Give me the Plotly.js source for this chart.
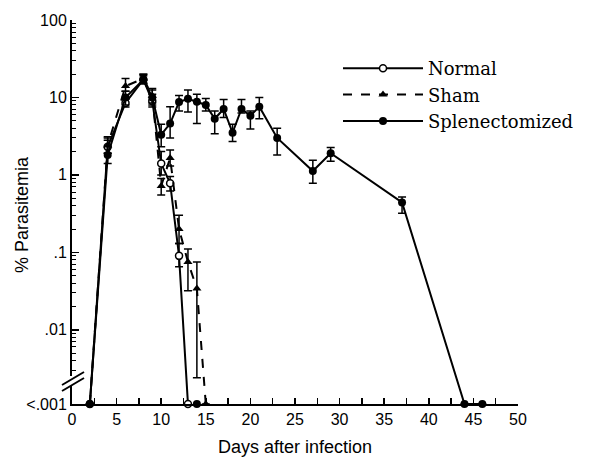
<!DOCTYPE html>
<html>
<head>
<meta charset="utf-8">
<script src="https://cdn.plot.ly/plotly-3.0.1.min.js"></script>
<style>html,body{margin:0;padding:0;background:#fff;}#chart{width:595px;height:460px;}</style>
</head>
<body>
<div id="chart"></div>
<script>
// "<.001" (below detection) is drawn at the floor value
const FLOOR = 0.0011;

// Normal
const normalDays  = [2, 4, 6, 8, 9, 10, 11, 12, 13];
const normalVals  = [FLOOR, 2.3, 8.5, 17, 9, 1.4, 0.78, 0.09, FLOOR];
const normalUpper = [FLOOR, 2.8, 9.5, 19, 11, 2.0, 0.95, 0.13, FLOOR];
const normalLower = [FLOOR, 1.9, 7.5, 15, 7.5, 1.0, 0.62, 0.065, FLOOR];

// Sham
const shamDays  = [2, 4, 6, 8, 9, 10, 11, 12, 13, 14, 15];
const shamVals  = [FLOOR, 2.4, 14, 17.5, 10.5, 0.72, 1.65, 0.2, 0.075, 0.034, FLOOR];
const shamUpper = [FLOOR, 3.0, 17.5, 20, 12.5, 0.9, 2.1, 0.3, 0.11, 0.075, FLOOR];
const shamLower = [FLOOR, 1.9, 12, 15.5, 8.5, 0.55, 1.3, 0.13, 0.032, 0.0024, FLOOR];

// Splenectomized
const splDays  = [2, 4, 6, 8, 9, 10, 11, 12, 13, 14, 15, 16, 17, 18, 19, 20, 21, 23, 27, 29, 37, 44, 46];
const splVals  = [FLOOR, 1.8, 10, 17, 10, 3.3, 4.6, 8.7, 9.6, 8.8, 8, 5.3, 7.1, 3.5, 7.1, 5.8, 7.6, 3.0, 1.12, 1.9, 0.44, FLOOR, FLOOR];
const splUpper = [FLOOR, 3.1, 12, 20, 13, 4.5, 7.6, 10.6, 12.5, 11, 9.7, 6.7, 9.4, 4.5, 9.4, 6.7, 10, 4.0, 1.55, 2.25, 0.52, FLOOR, FLOOR];
const splLower = [FLOOR, 1.4, 8, 15, 8, 2.3, 3.0, 6.7, 6.5, 4.6, 6.7, 3.4, 5.5, 2.7, 6.3, 3.9, 5.3, 1.8, 0.78, 1.5, 0.32, FLOOR, FLOOR];

// extra cleared marker of the sham group
const shamClearDays = [14];
const shamClearVals = [FLOOR];

const yTickVals = [FLOOR, 0.01, 0.1, 1, 10, 100];
const yTickText = ['<.001', '.01', '.1', '1', '10', '100'];

function errs(vals, up, lo) {
  return {
    type: 'data', symmetric: false,
    array: vals.map((v, i) => up[i] - v),
    arrayminus: vals.map((v, i) => v - lo[i]),
    color: '#000', thickness: 1.5, width: 4
  };
}

const traces = [
  {
    x: normalDays, y: normalVals, name: 'Normal', mode: 'lines+markers',
    line: {color: '#000', width: 2},
    marker: {symbol: 'circle', size: 7, color: '#fff', line: {color: '#000', width: 1.5}},
    error_y: errs(normalVals, normalUpper, normalLower), cliponaxis: false
  },
  {
    x: shamDays, y: shamVals, name: 'Sham', mode: 'lines+markers',
    line: {color: '#000', width: 2, dash: 'dash'},
    marker: {symbol: 'triangle-up', size: 8, color: '#000'},
    error_y: errs(shamVals, shamUpper, shamLower), cliponaxis: false
  },
  {
    x: splDays, y: splVals, name: 'Splenectomized', mode: 'lines+markers',
    line: {color: '#000', width: 2},
    marker: {symbol: 'circle', size: 8, color: '#000'},
    error_y: errs(splVals, splUpper, splLower), cliponaxis: false
  },
  {
    x: shamClearDays, y: shamClearVals, mode: 'markers', showlegend: false, hoverinfo: 'skip',
    marker: {symbol: 'circle', size: 8, color: '#000'}, cliponaxis: false
  }
];

// minor ticks of the log axis
const minorVals = [];
for (let e = -3; e <= 1; e++) {
  for (let k = 2; k <= 9; k++) {
    const v = k * Math.pow(10, e);
    if (v >= 0.003) minorVals.push(v);
  }
}

const L = 72, R = 518, T = 20, B = 404;
const px = x => (x - L) / (R - L);
const py = y => (B - y) / (B - T);

const layout = {
  width: 595, height: 460,
  margin: {l: L, r: 595 - R, t: T, b: 460 - B},
  paper_bgcolor: '#fff', plot_bgcolor: '#fff',
  showlegend: true,
  legend: {
    x: px(338), y: py(50), xanchor: 'left', yanchor: 'top',
    font: {family: 'DejaVu Serif', size: 18, color: '#000'},
    itemwidth: 80, bgcolor: 'rgba(0,0,0,0)', tracegroupgap: 0
  },
  xaxis: {
    range: [0, 50], showgrid: false, zeroline: false,
    showline: true, linecolor: '#000', linewidth: 2,
    tickmode: 'linear', tick0: 0, dtick: 5,
    ticks: 'inside', ticklen: 6, tickwidth: 1.5, tickcolor: '#000',
    minor: {dtick: 2.5, ticks: 'inside', ticklen: 6, tickwidth: 1.5, tickcolor: '#000', showgrid: false},
    tickfont: {family: 'Liberation Sans', size: 16, color: '#000'},
    title: {text: 'Days after infection', font: {family: 'Liberation Sans', size: 18, color: '#000'}, standoff: 13}
  },
  yaxis: {
    type: 'log', range: [Math.log10(FLOOR), 2], showgrid: false, zeroline: false,
    showline: true, linecolor: '#000', linewidth: 2,
    tickmode: 'array', tickvals: yTickVals, ticktext: yTickText,
    ticks: 'inside', ticklen: 7, tickwidth: 1.5, tickcolor: '#000',
    minor: {tickmode: 'array', tickvals: minorVals, ticks: 'inside', ticklen: 4, tickwidth: 1, tickcolor: '#000', showgrid: false},
    tickfont: {family: 'Liberation Sans', size: 16, color: '#000'}
  },
  annotations: [
    {text: '% Parasitemia', xref: 'paper', yref: 'paper', x: px(22), y: py(215),
     xanchor: 'center', yanchor: 'middle', textangle: -90, showarrow: false,
     font: {family: 'Liberation Sans', size: 18, color: '#000'}}
  ],
  shapes: [
    {type: 'line', xref: 'paper', yref: 'paper', x0: px(72), y0: py(376), x1: px(72), y1: py(386), line: {color: '#fff', width: 5}, layer: 'above'},
    {type: 'line', xref: 'paper', yref: 'paper', x0: px(62), y0: py(385), x1: px(84), y1: py(372), line: {color: '#000', width: 2}, layer: 'above'},
    {type: 'line', xref: 'paper', yref: 'paper', x0: px(62), y0: py(391), x1: px(84), y1: py(378), line: {color: '#000', width: 2}, layer: 'above'}
  ]
};

Plotly.newPlot('chart', traces, layout, {displayModeBar: false, staticPlot: true});
</script>
</body>
</html>
